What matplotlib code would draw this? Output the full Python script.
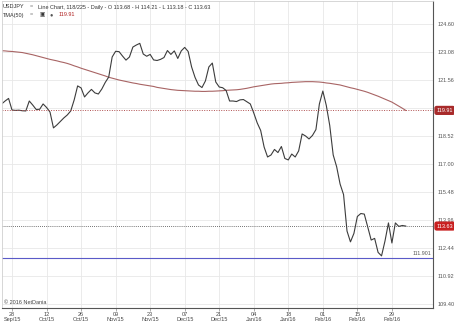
import numpy as np
import matplotlib.pyplot as plt
import matplotlib.transforms as mtransforms

plt.rcParams['font.family'] = ['Liberation Sans', 'DejaVu Sans']

# bar index (trading days), 0 = 28 Sep 2015
bars = np.arange(-3, 115)

price = [120.26, 120.42, 120.56, 119.93, 119.91, 119.92, 119.89, 119.88, 120.42, 120.20,
         119.96, 119.97, 120.26, 120.07, 119.82, 118.96, 119.12, 119.31, 119.50, 119.66,
         119.88, 120.48, 121.24, 121.13, 120.64, 120.86, 121.05, 120.86, 120.80, 121.07,
         121.43, 121.72, 122.81, 123.12, 123.10, 122.86, 122.64, 122.81, 123.35, 123.46,
         123.55, 122.97, 122.85, 122.95, 122.65, 122.62, 122.68, 122.78, 123.16, 122.95,
         123.14, 122.73, 123.14, 123.33, 123.11, 122.27, 121.70, 121.29, 121.15, 121.51,
         122.27, 122.48, 121.45, 121.18, 121.14, 120.99, 120.42, 120.42, 120.39, 120.48,
         120.50, 120.38, 120.26, 119.77, 119.23, 118.82, 117.92, 117.38, 117.49, 117.79,
         117.62, 117.95, 117.30, 117.22, 117.54, 117.38, 117.71, 118.63, 118.52, 118.36,
         118.55, 118.87, 120.26, 120.96, 120.18, 119.09, 117.49, 116.85, 115.91, 115.34,
         113.36, 112.77, 113.23, 114.15, 114.31, 114.28, 113.58, 112.87, 112.96, 112.20,
         112.01, 112.82, 113.80, 112.71, 113.80, 113.61, 113.66, 113.63]

tma50 = [123.15, 123.14, 123.12, 123.11, 123.09, 123.07, 123.05, 123.01, 122.97, 122.93,
         122.88, 122.83, 122.78, 122.73, 122.68, 122.64, 122.60, 122.55, 122.51, 122.46,
         122.40, 122.33, 122.27, 122.20, 122.14, 122.08, 122.02, 121.96, 121.90, 121.84,
         121.78, 121.71, 121.66, 121.61, 121.56, 121.52, 121.48, 121.44, 121.40, 121.37,
         121.33, 121.30, 121.27, 121.24, 121.21, 121.16, 121.13, 121.10, 121.07, 121.04,
         121.02, 121.00, 120.99, 120.98, 120.97, 120.96, 120.95, 120.95, 120.94, 120.94,
         120.95, 120.95, 120.96, 120.97, 120.98, 121.00, 121.01, 121.02, 121.03, 121.05,
         121.08, 121.11, 121.15, 121.19, 121.22, 121.25, 121.28, 121.31, 121.34, 121.36,
         121.37, 121.38, 121.40, 121.41, 121.43, 121.44, 121.45, 121.46, 121.47, 121.47,
         121.47, 121.46, 121.45, 121.43, 121.40, 121.38, 121.35, 121.32, 121.29, 121.24,
         121.19, 121.14, 121.10, 121.05, 121.00, 120.95, 120.89, 120.82, 120.75, 120.68,
         120.60, 120.52, 120.44, 120.36, 120.25, 120.14, 120.03, 119.91]

xtick_pos = [0, 10, 20, 30, 40, 50, 60, 70, 80, 90, 100, 110]
xtick_labels = ['28\nSep/15', '12\nOct/15', '26\nOct/15', '09\nNov/15', '23\nNov/15',
                '07\nDec/15', '21\nDec/15', '04\nJan/16', '18\nJan/16', '01\nFeb/16',
                '15\nFeb/16', '29\nFeb/16']
ytick_vals = [109.40, 110.92, 112.44, 113.96, 115.48, 117.00, 118.52, 120.04, 121.56, 123.08, 124.60]
ytick_labels = ['109.40', '110.92', '112.44', '113.96', '115.48', '117.00', '118.52', '',
                '121.56', '123.08', '124.60']

ma_last = 119.91
close_last = 113.63
support = 111.90

fig = plt.figure(figsize=(4.54, 3.22), dpi=100)
ax = fig.add_axes([2 / 454, 1 - 308 / 322, 431 / 454, 307 / 322])

ax.plot(bars, tma50, color='#a86464', linewidth=0.8)
ax.plot(bars, price, color='#3c3c3c', linewidth=0.8)

ax.axhline(ma_last, color='#b05050', linewidth=0.7, linestyle=(0, (1, 1.5)))
ax.axhline(close_last, color='#444444', linewidth=0.6, linestyle=(0, (1, 1.5)))
ax.axhline(support, color='#5a5ac8', linewidth=0.8)

ax.set_xlim(-2.9, 121.9)
ax.set_ylim(109.18, 125.85)

ax.set_xticks(xtick_pos)
ax.set_xticklabels(xtick_labels, fontsize=4, color='#444444', linespacing=1.0)
ax.set_yticks(ytick_vals)
ax.set_yticklabels(ytick_labels, fontsize=4, color='#555555')
ax.yaxis.tick_right()
ax.tick_params(axis='y', length=0, pad=3)
ax.tick_params(axis='x', length=2, width=0.5, color='#888888', pad=1)
ax.grid(True, color='#e8e8e8', linewidth=0.6)
ax.set_axisbelow(True)

for side in ['left', 'top']:
    ax.spines[side].set_color('#d0d0d0')
    ax.spines[side].set_linewidth(0.6)
for side in ['right', 'bottom']:
    ax.spines[side].set_color('#555555')
    ax.spines[side].set_linewidth(0.8)

trans = mtransforms.blended_transform_factory(ax.transAxes, ax.transData)
ax.text(1.008, ma_last, '119.91', transform=trans, fontsize=4, color='white',
        va='center', ha='left',
        bbox=dict(boxstyle='round,pad=0.25,rounding_size=0.3', fc='#a82a2a', ec='#a82a2a'))
ax.text(1.008, close_last, '113.63', transform=trans, fontsize=4, color='white',
        va='center', ha='left',
        bbox=dict(boxstyle='round,pad=0.25,rounding_size=0.3', fc='#c81e1e', ec='#c81e1e'))
ax.text(0.997, support + 0.08, '111.901', transform=trans, fontsize=3.8, color='#555555',
        va='bottom', ha='right')

# header
fig.text(3 / 454, 1 - 7 / 322, 'USDJPY', fontsize=4, color='#333333', va='center')
fig.text(30 / 454, 1 - 7 / 322, '=', fontsize=4, color='#777777', va='center')
fig.text(38 / 454, 1 - 7 / 322,
         'Line Chart, 118/225 - Daily - O 113.68 - H 114.21 - L 113.18 - C 113.63',
         fontsize=4, color='#333333', va='center')
fig.text(3 / 454, 1 - 15 / 322, 'TMA(50)', fontsize=4, color='#333333', va='center')
fig.text(30 / 454, 1 - 15 / 322, '=', fontsize=4, color='#777777', va='center')
fig.text(39 / 454, 1 - 15 / 322, '\u25a3', fontsize=4, color='#333333', va='center')
fig.text(49 / 454, 1 - 15 / 322, '\u25cf', fontsize=4, color='#555555', va='center')
fig.text(59 / 454, 1 - 15 / 322, '119.91', fontsize=4, color='#b02020', va='center')

fig.text(4 / 454, 1 - 302 / 322, '\u00a9 2016 NetDania', fontsize=4, color='#444444', va='center')

fig.savefig('out.png', dpi=100)
